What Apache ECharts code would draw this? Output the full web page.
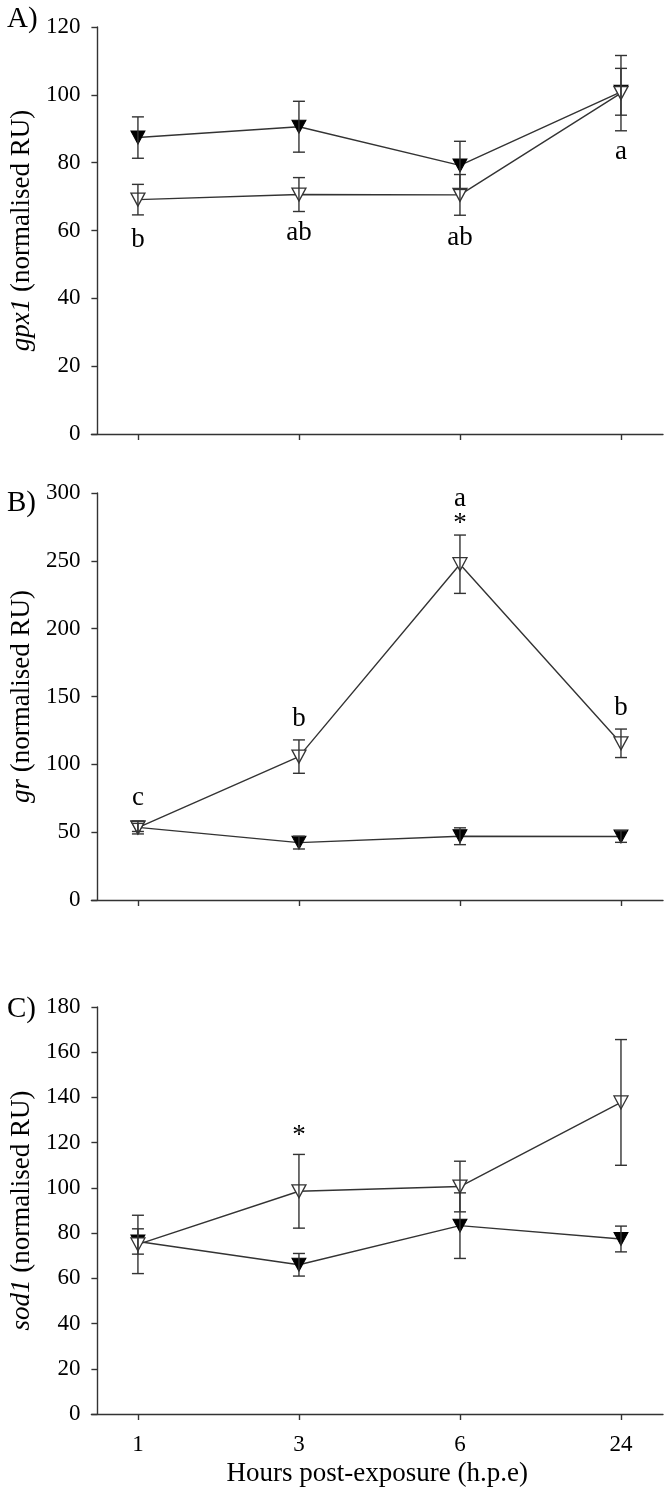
<!DOCTYPE html>
<html>
<head>
<meta charset="utf-8">
<script src="https://cdn.jsdelivr.net/npm/echarts@6/dist/echarts.min.js"></script>
<style>
html,body{margin:0;padding:0;background:#fff;}
#chart{width:669px;height:1494px;}
</style>
</head>
<body>
<div id="chart"></div>
<script>
// ---------- data ----------
const timeLabels = ['1', '3', '6', '24'];
const xIdx = [0, 1, 2, 3];

// Panel A: gpx1
const gpxFilled = [87.4, 90.6, 79.2, 100.9];
const gpxFilledErr = [6.1, 7.5, 7.1, 6.9];
const gpxOpen = [69.1, 70.6, 70.5, 100.5];
const gpxOpenErr = [4.5, 5.0, 6.0, 11.1];
const gpxNotes = [[0, 57.2, 'b'], [1, 59.3, 'ab'], [2, 57.8, 'ab'], [3, 83.1, 'a']];

// Panel B: gr
const grFilled = [53.5, 42.3, 47.0, 46.8];
const grFilledErr = [3.0, 4.7, 6.2, 4.3];
const grOpen = [53.4, 105.7, 247.5, 115.5];
const grOpenErr = [4.7, 12.3, 21.5, 10.5];
const grNotes = [[0, 75.4, 'c'], [1, 133.7, 'b'], [2, 296, 'a'], [2, 277.0, '*'], [3, 141.9, 'b']];

// Panel C: sod1
const sodFilled = [76.3, 66.0, 83.3, 77.4];
const sodFilledErr = [5.6, 5.0, 14.5, 5.7];
const sodOpen = [75.0, 98.5, 100.6, 137.8];
const sodOpenErr = [12.9, 16.3, 11.2, 27.8];
const sodNotes = [[1, 123, '*']];

const yTicks = {A: [0, 120, 20], B: [0, 300, 50], C: [0, 180, 20]};

// ---------- styles ----------
const FONT = 'Liberation Serif';
const AX = '#333333';
const chart = echarts.init(document.getElementById('chart'));

const panels = [
  {key: 'A', top: 27, name: '{i|gpx1} (normalised RU)', f: gpxFilled, fe: gpxFilledErr, o: gpxOpen, oe: gpxOpenErr, notes: gpxNotes},
  {key: 'B', top: 493, name: '{i|gr} (normalised RU)', f: grFilled, fe: grFilledErr, o: grOpen, oe: grOpenErr, notes: grNotes},
  {key: 'C', top: 1007, name: '{i|sod1} (normalised RU)', f: sodFilled, fe: sodFilledErr, o: sodOpen, oe: sodOpenErr, notes: sodNotes}
];

const grids = [], xAxes = [], yAxes = [], series = [], titles = [];
const labelTops = [5, 489, 995];

function errRender(params, api) {
  const x = api.value(0), y = api.value(1), e = api.value(2);
  const t = api.coord([x, y + e]);
  const b = api.coord([x, y - e]);
  const w = 6;
  const st = {stroke: AX, lineWidth: 1.4};
  return {
    type: 'group',
    children: [
      {type: 'line', shape: {x1: t[0], y1: t[1], x2: b[0], y2: b[1]}, style: st},
      {type: 'line', shape: {x1: t[0] - w, y1: t[1], x2: t[0] + w, y2: t[1]}, style: st},
      {type: 'line', shape: {x1: b[0] - w, y1: b[1], x2: b[0] + w, y2: b[1]}, style: st}
    ]
  };
}

panels.forEach((p, i) => {
  grids.push({left: 90, right: 6, top: p.top, height: 407});
  const last = i === panels.length - 1;
  xAxes.push({
    gridIndex: i, type: 'value', min: -0.289, max: 3.261,
    splitLine: {show: false},
    axisLine: {lineStyle: {color: AX, width: 1.4}},
    axisTick: {show: true, length: 6, customValues: xIdx, lineStyle: {color: AX, width: 1.4}},
    axisLabel: {show: last, customValues: xIdx, formatter: v => timeLabels[Math.round(v)],
      fontFamily: FONT, fontSize: 23, color: '#000', margin: 19},
    name: last ? 'Hours post-exposure (h.p.e)' : '',
    nameLocation: 'middle', nameGap: 46,
    nameTextStyle: {fontFamily: FONT, fontSize: 27, color: '#000'}
  });
  const yt = yTicks[p.key];
  yAxes.push({
    gridIndex: i, type: 'value', min: yt[0], max: yt[1], interval: yt[2],
    offset: -6,
    splitLine: {show: false},
    axisLine: {show: true, onZero: false, lineStyle: {color: AX, width: 1.4}},
    axisTick: {show: true, length: 6, lineStyle: {color: AX, width: 1.4}},
    axisLabel: {fontFamily: FONT, fontSize: 23, color: '#000', margin: 17},
    name: p.name, nameLocation: 'middle', nameGap: 55,
    nameTextStyle: {fontFamily: FONT, fontSize: 27, color: '#000',
      rich: {i: {fontFamily: FONT, fontSize: 27, fontStyle: 'italic', color: '#000'}}}
  });
  titles.push({text: p.key + ')', left: 7, top: labelTops[i], padding: 0,
    textStyle: {fontFamily: FONT, fontSize: 29, fontWeight: 'normal', color: '#000'}});

  const lineCommon = {
    type: 'line', xAxisIndex: i, yAxisIndex: i,
    symbol: 'triangle', symbolRotate: 180, symbolSize: [14, 13],
    lineStyle: {color: AX, width: 1.4}, z: 3, animation: false
  };
  series.push(Object.assign({}, lineCommon, {
    name: p.key + ' filled',
    data: xIdx.map((x, k) => [x, p.f[k]]),
    itemStyle: {color: '#000', borderColor: '#000', borderWidth: 1}
  }));
  series.push(Object.assign({}, lineCommon, {
    name: p.key + ' open',
    data: xIdx.map((x, k) => [x, p.o[k]]),
    itemStyle: {color: '#fff', borderColor: '#333', borderWidth: 1.3}
  }));
  series.push({
    type: 'custom', xAxisIndex: i, yAxisIndex: i, renderItem: errRender, z: 4, animation: false,
    data: xIdx.map((x, k) => [x, p.f[k], p.fe[k]])
  });
  series.push({
    type: 'custom', xAxisIndex: i, yAxisIndex: i, renderItem: errRender, z: 4, animation: false,
    data: xIdx.map((x, k) => [x, p.o[k], p.oe[k]])
  });
  series.push({
    type: 'scatter', xAxisIndex: i, yAxisIndex: i, symbolSize: 0, animation: false, z: 5,
    data: p.notes,
    itemStyle: {opacity: 1, color: '#000'},
    label: {show: true, position: 'inside', formatter: d => d.value[2],
      fontFamily: FONT, fontSize: 27, color: '#000', opacity: 1,
      textBorderWidth: 0, textBorderColor: 'transparent'}
  });
});

chart.setOption({
  backgroundColor: '#fff',
  animation: false,
  title: titles,
  grid: grids,
  xAxis: xAxes,
  yAxis: yAxes,
  series: series
});
</script>
</body>
</html>
